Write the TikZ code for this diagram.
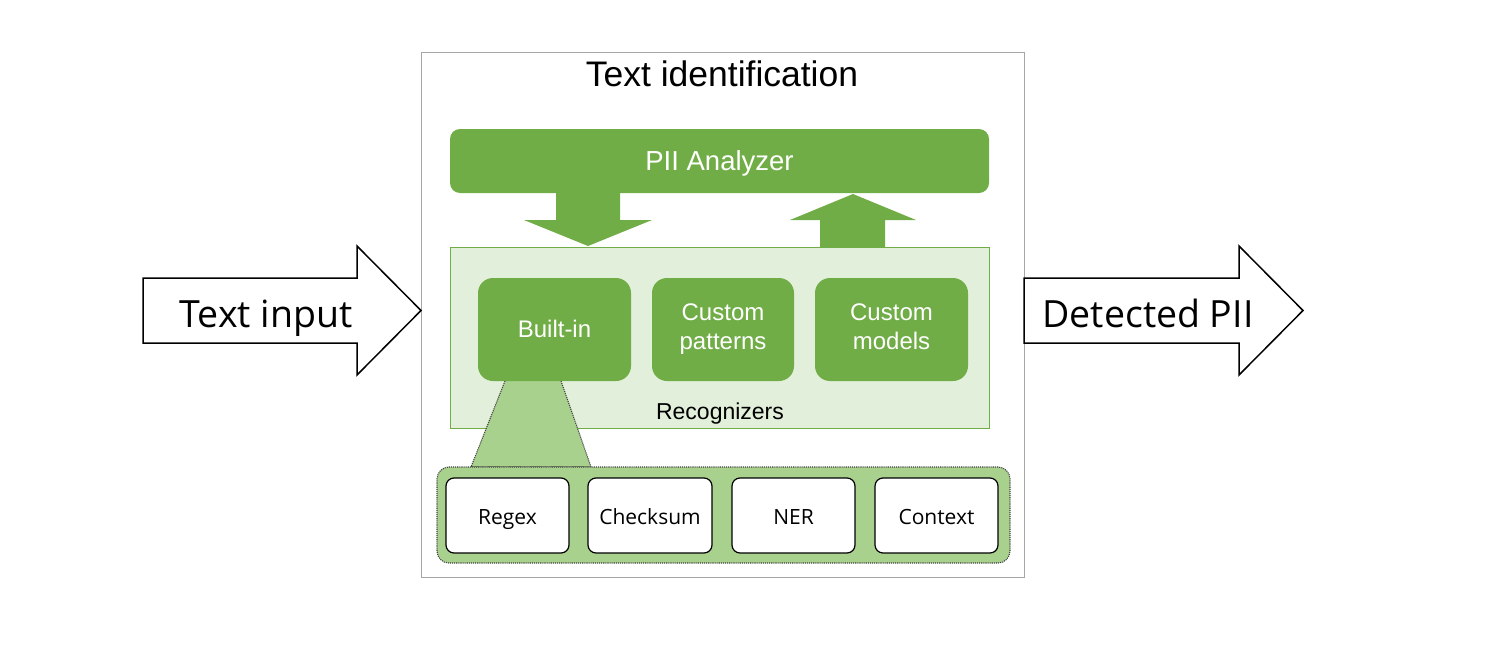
\documentclass[tikz,border=0pt]{standalone}
\usepackage{fontspec}
\setmainfont{Liberation Sans}
\newfontfamily\segoe{Open Sans}
\usepackage{tikz}
\usetikzlibrary{positioning}
\definecolor{pgreen}{HTML}{70AD47}
\definecolor{plight}{HTML}{E2EFDA}
\definecolor{pmid}{HTML}{A9D18E}
\definecolor{pframe}{HTML}{A6A6A6}

\begin{document}
\begin{tikzpicture}[x=1pt,y=-1pt,
  greenbox/.style={fill=pgreen,rounded corners=15pt,text=white,align=center,inner sep=0pt,
    minimum height=103pt,font=\fontsize{24}{29}\selectfont},
  toolbox/.style={draw=black,line width=1.2pt,fill=white,rounded corners=8pt,inner sep=0pt,
    minimum width=123pt,minimum height=75pt,text height=19pt,text depth=2pt,
    font=\segoe\fontsize{21}{25}\selectfont},
  bigarrow/.style={draw=black,line width=1.5pt,fill=white},
  blockarrow/.style={fill=pgreen}]
\useasboundingbox (0,0) rectangle (1510,645);

% outer frame
\node[draw=pframe,line width=0.8pt,minimum width=603pt,minimum height=525pt,inner sep=0pt] (frame) at (722.5,314.5) {};
\node[anchor=base,font=\fontsize{35.5}{43}\selectfont] (title) at (722,86) {Text identification};

% analyzer and recognizers
\node[fill=pgreen,rounded corners=10pt,minimum width=539pt,minimum height=64pt,inner sep=0pt,
  text height=20pt,text depth=2pt,text=white,font=\fontsize{27.5}{32}\selectfont] (analyzer) at (719.5,161) {PII Analyzer};
\node[fill=plight,draw=pgreen,line width=1pt,minimum width=539pt,minimum height=181pt,inner sep=0pt] (recog) at (719.5,337.5) {};
\node[anchor=base,font=\fontsize{23}{28}\selectfont] (recoglabel) at (720,419) {Recognizers};

\fill[blockarrow] (556,193) -- (620,193) -- (620,220) -- (652,220) -- (588,246) -- (524,220) -- (556,220) -- cycle;
\fill[blockarrow] (853,194) -- (916,220) -- (885,220) -- (885,247) -- (820,247) -- (820,220) -- (790,220) -- cycle;

% zoom onto built-in
\draw[fill=pmid,draw=black!75,densely dotted,line width=1.1pt] (505,381) -- (471,467) -- (591,467) -- (561,381);
\node[greenbox,minimum width=153pt,text height=17pt,text depth=2pt] (builtin) at (554.5,329.5) {Built-in};
\node[greenbox,minimum width=142pt] (patterns) at (723,329.5) {Custom\\patterns};
\node[greenbox,minimum width=153pt] (models) at (891.5,329.5) {Custom\\models\vphantom{p}};

\node[fill=pmid,draw=black!75,densely dotted,line width=1.1pt,rounded corners=12pt,
  minimum width=573pt,minimum height=96pt] (group) at (723.5,515) {};
\node[toolbox] (regex) at (507.5,515.5) {Regex};
\node[toolbox,minimum width=124pt] (checksum) at (650,515.5) {Checksum};
\node[toolbox] (ner) at (793.5,515.5) {NER};
\node[toolbox] (context) at (936.5,515.5) {Context};

% input and output
\draw[bigarrow] (143,278) -- (357,278) -- (357,246) -- (421,310.5) -- (357,375) -- (357,343) -- (143,343) -- cycle;
\node[anchor=base,font=\segoe\fontsize{37.5}{44}\selectfont] (input) at (266,327) {Text input};
\draw[bigarrow] (1024,278) -- (1239,278) -- (1239,246) -- (1303,310.5) -- (1239,375) -- (1239,343) -- (1024,343) -- cycle;
\node[anchor=base,font=\segoe\fontsize{37.5}{44}\selectfont] (output) at (1148,327) {Detected PII};
\end{tikzpicture}
\end{document}
